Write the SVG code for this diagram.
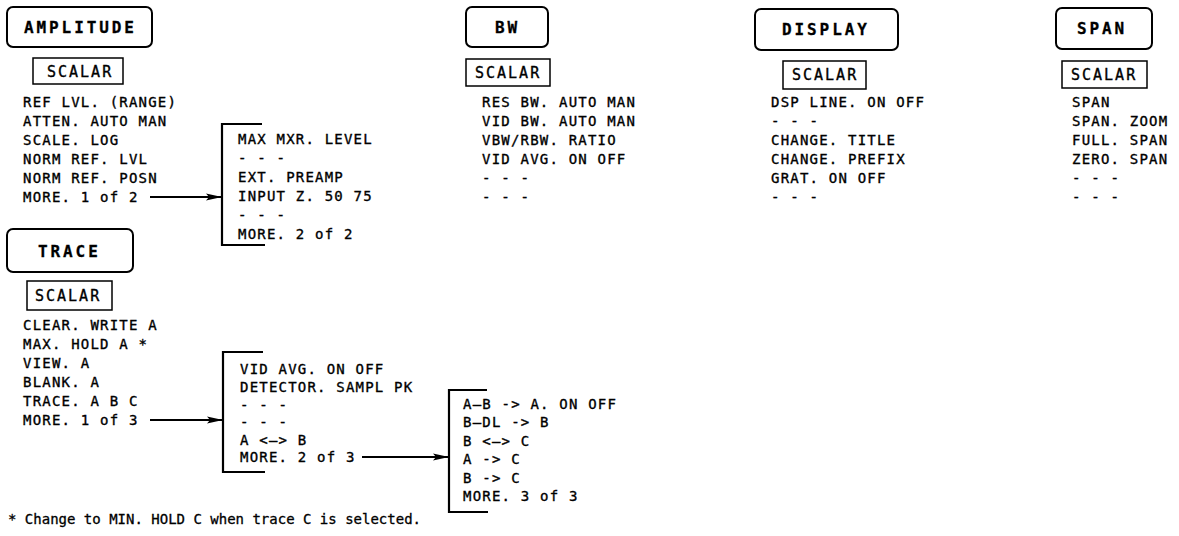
<svg xmlns="http://www.w3.org/2000/svg" width="1179" height="536" viewBox="0 0 1179 536">
<style>
text{font-family:"DejaVu Sans Mono","Liberation Mono",monospace;fill:#000;stroke:#000}
.t{font-size:14px;letter-spacing:1.2px;stroke-width:0.35px}
.h{font-size:16px;font-weight:bold;letter-spacing:2.9px;stroke-width:0.3px}
.s{font-size:15px;letter-spacing:2px;stroke-width:0.35px}
.f{font-size:14px;letter-spacing:0;stroke-width:0.3px}
.box{fill:none;stroke:#000;stroke-width:2}
.sbox{fill:none;stroke:#000;stroke-width:1.5}
.br{fill:none;stroke:#000;stroke-width:2.2}
.ar{fill:none;stroke:#000;stroke-width:2;marker-end:url(#ah)}
</style>
<defs>
<marker id="ah" markerUnits="userSpaceOnUse" markerWidth="17" markerHeight="9" refX="16" refY="4.5" orient="auto">
<path d="M0,1 L16,4.5 L0,8 L3,4.5 Z" fill="#000"/>
</marker>
</defs>
<rect width="1179" height="536" fill="#fff"/>

<g id="amplitude">
<rect class="box" x="7" y="7" width="145" height="40" rx="6"/>
<text class="h" x="24" y="33">AMPLITUDE</text>
<rect class="sbox" x="33" y="58" width="90" height="26"/>
<text class="s" x="47" y="77">SCALAR</text>
<text class="t">
<tspan x="23" y="107">REF LVL. (RANGE)</tspan>
<tspan x="23" y="126">ATTEN. AUTO MAN</tspan>
<tspan x="23" y="145">SCALE. LOG</tspan>
<tspan x="23" y="164">NORM REF. LVL</tspan>
<tspan x="23" y="183">NORM REF. POSN</tspan>
<tspan x="23" y="202">MORE. 1 of 2</tspan>
</text>
</g>

<g id="amplitude-more">
<path class="br" d="M262,124 H222 V245 H265"/>
<text class="t">
<tspan x="238" y="144">MAX MXR. LEVEL</tspan>
<tspan x="238" y="163">- - -</tspan>
<tspan x="238" y="182">EXT. PREAMP</tspan>
<tspan x="238" y="201">INPUT Z. 50 75</tspan>
<tspan x="238" y="220">- - -</tspan>
<tspan x="238" y="239">MORE. 2 of 2</tspan>
</text>
</g>

<g id="bw">
<rect class="box" x="466" y="7" width="82" height="40" rx="6"/>
<text class="h" x="495" y="33">BW</text>
<rect class="sbox" x="466" y="59" width="84" height="27"/>
<text class="s" x="475" y="78">SCALAR</text>
<text class="t">
<tspan x="482" y="107">RES BW. AUTO MAN</tspan>
<tspan x="482" y="126">VID BW. AUTO MAN</tspan>
<tspan x="482" y="145">VBW/RBW. RATIO</tspan>
<tspan x="482" y="164">VID AVG. ON OFF</tspan>
<tspan x="482" y="183">- - -</tspan>
<tspan x="482" y="202">- - -</tspan>
</text>
</g>

<g id="display">
<rect class="box" x="755" y="9" width="143" height="41" rx="6"/>
<text class="h" x="782" y="35">DISPLAY</text>
<rect class="sbox" x="783" y="61" width="83" height="28"/>
<text class="s" x="792" y="80">SCALAR</text>
<text class="t">
<tspan x="771" y="107">DSP LINE. ON OFF</tspan>
<tspan x="771" y="126">- - -</tspan>
<tspan x="771" y="145">CHANGE. TITLE</tspan>
<tspan x="771" y="164">CHANGE. PREFIX</tspan>
<tspan x="771" y="183">GRAT. ON OFF</tspan>
<tspan x="771" y="202">- - -</tspan>
</text>
</g>

<g id="span">
<rect class="box" x="1056" y="8" width="96" height="41" rx="6"/>
<text class="h" x="1077" y="34">SPAN</text>
<rect class="sbox" x="1062" y="61" width="85" height="27"/>
<text class="s" x="1071" y="80">SCALAR</text>
<text class="t">
<tspan x="1072" y="107">SPAN</tspan>
<tspan x="1072" y="126">SPAN. ZOOM</tspan>
<tspan x="1072" y="145">FULL. SPAN</tspan>
<tspan x="1072" y="164">ZERO. SPAN</tspan>
<tspan x="1072" y="183">- - -</tspan>
<tspan x="1072" y="202">- - -</tspan>
</text>
</g>

<g id="trace">
<rect class="box" x="7" y="229" width="126" height="43" rx="6"/>
<text class="h" x="38" y="257">TRACE</text>
<rect class="sbox" x="27" y="281" width="85" height="29"/>
<text class="s" x="35" y="301">SCALAR</text>
<text class="t">
<tspan x="23" y="330">CLEAR. WRITE A</tspan>
<tspan x="23" y="349">MAX. HOLD A *</tspan>
<tspan x="23" y="368">VIEW. A</tspan>
<tspan x="23" y="387">BLANK. A</tspan>
<tspan x="23" y="406">TRACE. A B C</tspan>
<tspan x="23" y="425">MORE. 1 of 3</tspan>
</text>
</g>

<g id="trace-more-2">
<path class="br" d="M263,352 H223 V472 H265"/>
<text class="t">
<tspan x="240" y="374">VID AVG. ON OFF</tspan>
<tspan x="240" y="392">DETECTOR. SAMPL PK</tspan>
<tspan x="240" y="410">- - -</tspan>
<tspan x="240" y="427">- - -</tspan>
<tspan x="240" y="445">A &lt;—&gt; B</tspan>
<tspan x="240" y="462">MORE. 2 of 3</tspan>
</text>
</g>

<g id="trace-more-3">
<path class="br" d="M487,390 H449 V512 H488"/>
<text class="t">
<tspan x="463" y="409">A—B -&gt; A. ON OFF</tspan>
<tspan x="463" y="427">B—DL -&gt; B</tspan>
<tspan x="463" y="446">B &lt;—&gt; C</tspan>
<tspan x="463" y="464">A -&gt; C</tspan>
<tspan x="463" y="483">B -&gt; C</tspan>
<tspan x="463" y="501">MORE. 3 of 3</tspan>
</text>
</g>

<g id="connectors">
<line class="ar" x1="150" y1="197" x2="222" y2="197"/>
<line class="ar" x1="150" y1="420" x2="223" y2="420"/>
<line class="ar" x1="362" y1="457" x2="449" y2="457"/>
</g>

<g id="footnote">
<text class="f" x="8" y="524">* Change to MIN. HOLD C when trace C is selected.</text>
</g>
</svg>
